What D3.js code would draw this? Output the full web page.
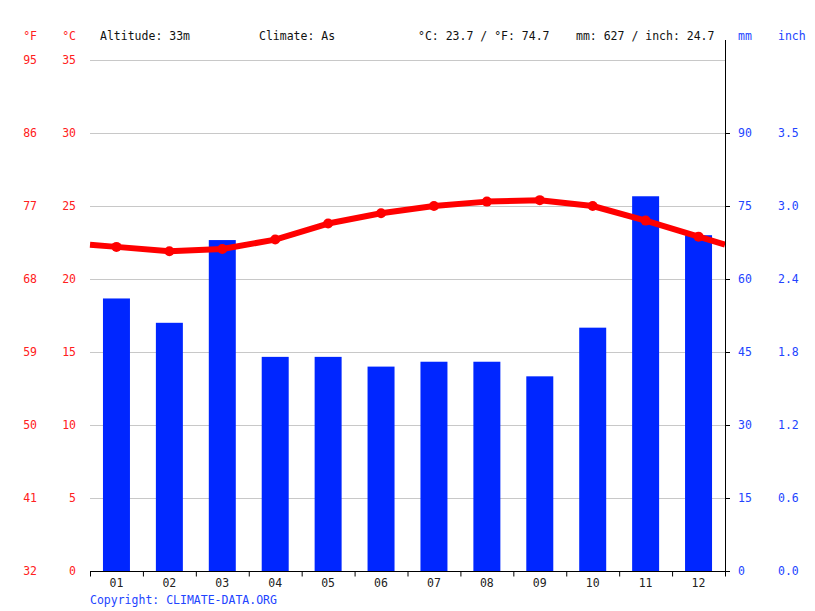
<!DOCTYPE html>
<html>
<head>
<meta charset="utf-8">
<script src="https://d3js.org/d3.v7.min.js"></script>
<style>
  body { margin: 0; background: #fff; }
  text { font-family: "DejaVu Sans Mono", monospace; font-size: 11.5px; }
</style>
</head>
<body>
<script>
// chart data
var months = ["01", "02", "03", "04", "05", "06", "07", "08", "09", "10", "11", "12"];
var precipMm = [56, 51, 68, 44, 44, 42, 43, 43, 40, 50, 77, 69];
var tempC = [22.2, 21.9, 22.05, 22.7, 23.8, 24.5, 25.0, 25.3, 25.4, 25.0, 24.0, 22.9];
var tempTicksC = [0, 5, 10, 15, 20, 25, 30, 35];
var tempTicksF = [32, 41, 50, 59, 68, 77, 86, 95];
var mmTicks = [0, 15, 30, 45, 60, 75, 90];
var inchTicks = ["0.0", "0.6", "1.2", "1.8", "2.4", "3.0", "3.5"];

function main() {
    var width = 815, height = 611;
    var left = 90, right = 725, top = 60, bottom = 571;

    var svg = d3.select("body").append("svg")
                .attr("width", width)
                .attr("height", height);

    var x = d3.scaleBand().domain(months).range([left, right]).paddingInner(0.49).paddingOuter(0.245);
    var xLine = d3.scalePoint().domain(months).range([left, right]).padding(0.5);
    var yC = d3.scaleLinear().domain([0, 35]).range([bottom, top]);
    var yMm = d3.scaleLinear().domain([0, 105]).range([bottom, top]);

    // grid lines
    svg.selectAll(".grid")
       .data(tempTicksC.slice(1))
       .enter().append("line")
       .attr("x1", left).attr("x2", right)
       .attr("y1", function(d) { return yC(d) + 0.5; })
       .attr("y2", function(d) { return yC(d) + 0.5; })
       .attr("stroke", "#c8c8c8");

    // bars
    svg.selectAll(".bar")
       .data(precipMm)
       .enter().append("rect")
       .attr("x", function(d, i) { return x(months[i]); })
       .attr("width", x.bandwidth())
       .attr("y", function(d) { return yMm(d); })
       .attr("height", function(d) { return bottom - yMm(d); })
       .attr("fill", "#0026ff");

    // temperature line, extended to the plot edges
    var step = xLine.step();
    var pts = tempC.map(function(d, i) { return [xLine(months[i]), yC(d)]; });
    var first = [left, yC(tempC[0] + (tempC[0] - tempC[1]) * (xLine(months[0]) - left) / step)];
    var last = [right, yC(tempC[11] + (tempC[11] - tempC[10]) * (right - xLine(months[11])) / step)];
    var linePts = [first].concat(pts, [last]);

    svg.append("path")
       .attr("d", d3.line()(linePts))
       .attr("fill", "none")
       .attr("stroke", "#ff0000")
       .attr("stroke-width", 6)
       .attr("stroke-linejoin", "round");

    svg.selectAll(".dot")
       .data(pts)
       .enter().append("circle")
       .attr("cx", function(d) { return d[0]; })
       .attr("cy", function(d) { return d[1]; })
       .attr("r", 5)
       .attr("fill", "#ff0000");

    // bottom axis
    var xAxis = svg.append("g").attr("transform", "translate(0," + (bottom + 0.5) + ")");
    xAxis.append("line").attr("x1", left).attr("x2", right + 4).attr("stroke", "#000");
    xAxis.selectAll(".tk")
         .data(d3.range(13))
         .enter().append("line")
         .attr("x1", function(d) { return left + d * step + 0.5; })
         .attr("x2", function(d) { return left + d * step + 0.5; })
         .attr("y1", 0).attr("y2", 5)
         .attr("stroke", "#000");
    xAxis.selectAll(".lbl")
         .data(months)
         .enter().append("text")
         .attr("x", function(d) { return xLine(d); })
         .attr("y", 15)
         .attr("text-anchor", "middle")
         .attr("fill", "#222")
         .text(function(d) { return d; });

    // right axis
    svg.append("line")
       .attr("x1", right + 0.5).attr("x2", right + 0.5)
       .attr("y1", 40).attr("y2", bottom)
       .attr("stroke", "#000");
    svg.selectAll(".rtk")
       .data(mmTicks)
       .enter().append("line")
       .attr("x1", right).attr("x2", right + 5)
       .attr("y1", function(d) { return yMm(d) + 0.5; })
       .attr("y2", function(d) { return yMm(d) + 0.5; })
       .attr("stroke", "#000");

    // left labels
    svg.selectAll(".lc")
       .data(tempTicksC)
       .enter().append("text")
       .attr("x", 76).attr("y", function(d) { return yC(d) + 4; })
       .attr("text-anchor", "end")
       .attr("fill", "#ff2020")
       .text(function(d) { return d; });
    svg.selectAll(".lf")
       .data(tempTicksF)
       .enter().append("text")
       .attr("x", 37).attr("y", function(d, i) { return yC(tempTicksC[i]) + 4; })
       .attr("text-anchor", "end")
       .attr("fill", "#ff2020")
       .text(function(d) { return d; });

    // right labels
    svg.selectAll(".rm")
       .data(mmTicks)
       .enter().append("text")
       .attr("x", 738).attr("y", function(d) { return yMm(d) + 4; })
       .attr("fill", "#2244ff")
       .text(function(d) { return d; });
    svg.selectAll(".ri")
       .data(inchTicks)
       .enter().append("text")
       .attr("x", 778).attr("y", function(d, i) { return yMm(mmTicks[i]) + 4; })
       .attr("fill", "#2244ff")
       .text(function(d) { return d; });

    // header texts
    var head = [
        { x: 37, t: "°F", c: "#ff2020", a: "end" },
        { x: 76, t: "°C", c: "#ff2020", a: "end" },
        { x: 100, t: "Altitude: 33m", c: "#111", a: "start" },
        { x: 259, t: "Climate: As", c: "#111", a: "start" },
        { x: 418, t: "°C: 23.7 / °F: 74.7", c: "#111", a: "start" },
        { x: 576, t: "mm: 627 / inch: 24.7", c: "#111", a: "start" },
        { x: 738, t: "mm", c: "#2244ff", a: "start" },
        { x: 778, t: "inch", c: "#2244ff", a: "start" }
    ];
    svg.selectAll(".hd")
       .data(head)
       .enter().append("text")
       .attr("x", function(d) { return d.x; })
       .attr("y", 40)
       .attr("text-anchor", function(d) { return d.a; })
       .attr("fill", function(d) { return d.c; })
       .text(function(d) { return d.t; });

    svg.append("text")
       .attr("x", 90).attr("y", 604)
       .attr("fill", "#2244ff")
       .text("Copyright: CLIMATE-DATA.ORG");
}
main();
</script>
</body>
</html>
